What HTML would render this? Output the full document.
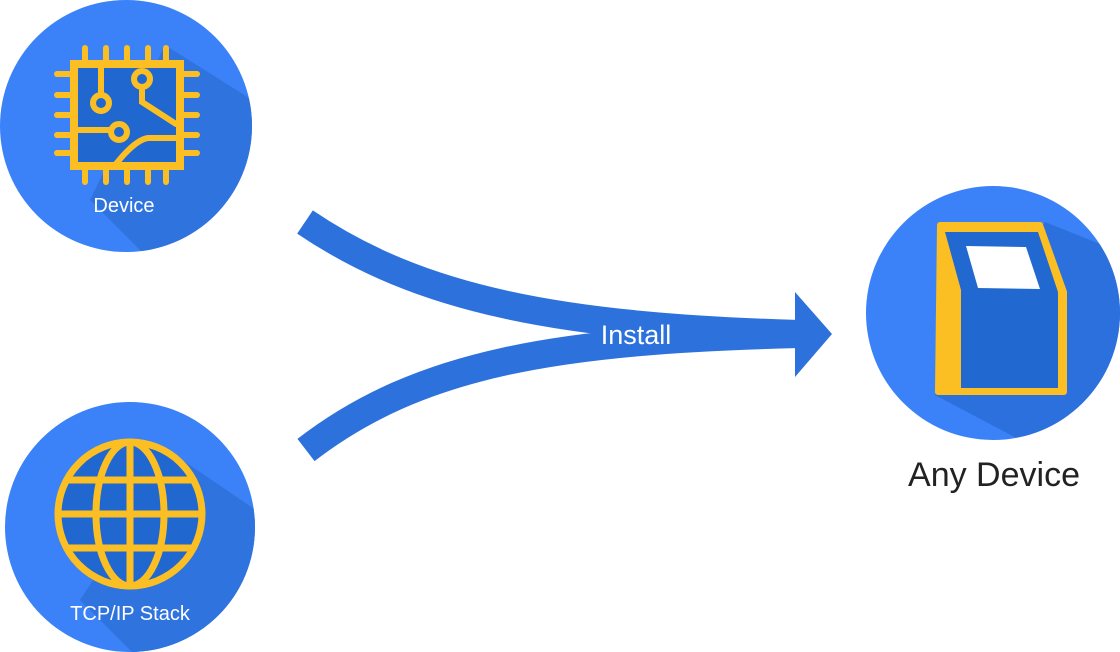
<!DOCTYPE html>
<html><head><style>
html,body{margin:0;width:1120px;height:652px;background:#fff;overflow:hidden;font-family:"Liberation Sans",sans-serif}
svg{display:block}
</style></head><body>
<svg width="1120" height="652" viewBox="0 0 1120 652">
<defs>
<clipPath id="c1"><circle cx="126" cy="126" r="126"/></clipPath>
<clipPath id="c2"><circle cx="130" cy="527" r="125"/></clipPath>
<clipPath id="c3"><circle cx="993" cy="313" r="127"/></clipPath>
</defs>
<!-- Device -->
<circle cx="126" cy="126" r="126" fill="#3b82f8"/>
<polygon clip-path="url(#c1)" points="165,45 300,130 300,300 150,260 90,200" fill="#2f73de"/>
<g stroke="#fbbf24" stroke-width="8" fill="none" stroke-linecap="round">
<rect x="74" y="64" width="106" height="102" fill="#2068cf"/>
<g stroke-width="6">
<line x1="85" y1="48" x2="85" y2="62"/><line x1="106" y1="48" x2="106" y2="62"/><line x1="127" y1="48" x2="127" y2="62"/><line x1="148" y1="48" x2="148" y2="62"/><line x1="166" y1="48" x2="166" y2="62"/>
<line x1="85" y1="170" x2="85" y2="182"/><line x1="106" y1="170" x2="106" y2="182"/><line x1="127" y1="170" x2="127" y2="182"/><line x1="148" y1="170" x2="148" y2="182"/><line x1="166" y1="170" x2="166" y2="182"/>
<line x1="57" y1="74" x2="70" y2="74"/><line x1="57" y1="95" x2="70" y2="95"/><line x1="57" y1="115" x2="70" y2="115"/><line x1="57" y1="135" x2="70" y2="135"/><line x1="57" y1="153" x2="70" y2="153"/>
<line x1="184" y1="74" x2="197" y2="74"/><line x1="184" y1="95" x2="197" y2="95"/><line x1="184" y1="115" x2="197" y2="115"/><line x1="184" y1="135" x2="197" y2="135"/><line x1="184" y1="153" x2="197" y2="153"/>
<line x1="101" y1="66" x2="101" y2="93"/><circle cx="101" cy="103" r="8"/>
<circle cx="142" cy="79" r="8"/><path d="M142 87 V102 L176 124"/>
<path d="M76 130 H110"/><circle cx="119" cy="132" r="8"/>
<path d="M116 164 Q135 140 148 138 H176"/>
</g></g>
<text x="124" y="212" fill="#fff" font-size="20" text-anchor="middle">Device</text>
<!-- TCP/IP -->
<circle cx="130" cy="527" r="125" fill="#3b82f8"/>
<polygon clip-path="url(#c2)" points="175,455 300,540 300,700 140,660 80,600" fill="#2f73de"/>
<g stroke="#fbbf24" stroke-width="7" fill="none">
<circle cx="130" cy="514" r="72" fill="#2068cf"/>
<ellipse cx="130" cy="514" rx="34" ry="72"/>
<line x1="130" y1="442" x2="130" y2="586"/>
<line x1="58" y1="514" x2="202" y2="514"/>
<line x1="68" y1="480" x2="192" y2="480"/><line x1="68" y1="548" x2="192" y2="548"/>
</g>
<text x="130" y="620" fill="#fff" font-size="20" text-anchor="middle">TCP/IP Stack</text>
<!-- Arrow -->
<g fill="none" stroke="#2d72dc" stroke-width="28">
<path d="M305 222 C420 300 560 327 800 334"/>
<path d="M306 450 C420 362 560 340 800 334"/>
</g>
<polygon points="795,292 832,334 795,377" fill="#2d72dc"/>
<text x="636" y="344" fill="#fff" font-size="27" text-anchor="middle">Install</text>
<!-- Any Device -->
<circle cx="993" cy="313" r="127" fill="#3b82f8"/>
<polygon clip-path="url(#c3)" points="1045,222 1140,260 1140,460 1020,440 935,395" fill="#2b70dc"/>
<path d="M940 225 H1040 L1064 292 V392 H938 Z" fill="#fbbf24" stroke="#fbbf24" stroke-width="6" stroke-linejoin="round"/>
<path d="M945 232 H1038 L1058 292 V388 H961 V290 Z" fill="#2168d0"/>
<polygon points="966,246 1026,247 1040,289 978,288" fill="#fff"/>
<text x="994" y="486" fill="#222" font-size="34" text-anchor="middle">Any Device</text>
</svg>
</body></html>
